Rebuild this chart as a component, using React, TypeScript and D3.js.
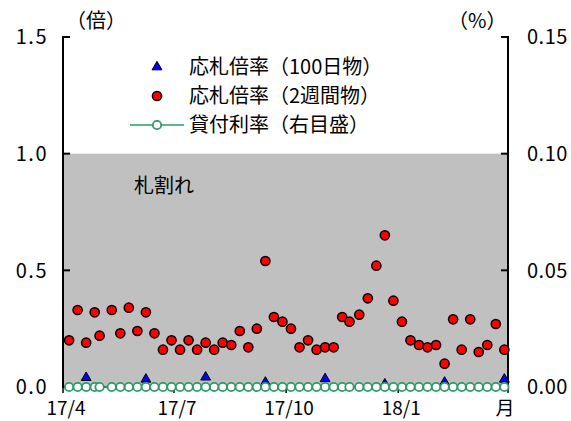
import React from 'react';
import * as d3 from 'd3';

// weekly operation dates (Thursdays, May 1 replaces the holiday week)
const dates2w: [number, number, number][] = [
  [2017, 4, 6], [2017, 4, 13], [2017, 4, 20], [2017, 4, 27], [2017, 5, 1],
  [2017, 5, 11], [2017, 5, 18], [2017, 5, 25], [2017, 6, 1], [2017, 6, 8],
  [2017, 6, 15], [2017, 6, 22], [2017, 6, 29], [2017, 7, 6], [2017, 7, 13],
  [2017, 7, 20], [2017, 7, 27], [2017, 8, 3], [2017, 8, 10], [2017, 8, 17],
  [2017, 8, 24], [2017, 8, 31], [2017, 9, 7], [2017, 9, 14], [2017, 9, 21],
  [2017, 9, 28], [2017, 10, 5], [2017, 10, 12], [2017, 10, 19], [2017, 10, 26],
  [2017, 11, 2], [2017, 11, 9], [2017, 11, 16], [2017, 11, 22], [2017, 11, 30],
  [2017, 12, 7], [2017, 12, 14], [2017, 12, 21], [2017, 12, 28], [2018, 1, 4],
  [2018, 1, 11], [2018, 1, 18], [2018, 1, 25], [2018, 2, 1], [2018, 2, 8],
  [2018, 2, 15], [2018, 2, 22], [2018, 3, 1], [2018, 3, 8], [2018, 3, 15],
  [2018, 3, 22], [2018, 3, 29],
];

// 応札倍率（2週間物）
const bid2w = [
  0.20, 0.33, 0.19, 0.32, 0.22, 0.33, 0.23, 0.34, 0.24, 0.32,
  0.23, 0.16, 0.20, 0.16, 0.20, 0.16, 0.19, 0.16, 0.19, 0.18,
  0.24, 0.17, 0.25, 0.54, 0.30, 0.28, 0.25, 0.17, 0.20, 0.16,
  0.17, 0.17, 0.30, 0.28, 0.31, 0.38, 0.52, 0.65, 0.37, 0.28,
  0.20, 0.18, 0.17, 0.18, 0.10, 0.29, 0.16, 0.29, 0.15, 0.18,
  0.27, 0.16,
];

// 応札倍率（100日物）
const dates100: [number, number, number][] = [
  [2017, 4, 20], [2017, 6, 8], [2017, 7, 27], [2017, 9, 14],
  [2017, 11, 2], [2017, 12, 21], [2018, 2, 8], [2018, 3, 29],
];
const bid100 = [0.04, 0.033, 0.042, 0.02, 0.035, 0.012, 0.02, 0.033];

// 貸付利率（右目盛, %）
const loanRate = dates2w.map(() => 0.0);

const leftTicks = [0, 0.5, 1.0, 1.5];
const rightTicks = [0, 0.05, 0.1, 0.15];
const xTicks: [number, number, string][] = [
  [2017, 4, '17/4'], [2017, 7, '17/7'], [2017, 10, '17/10'], [2018, 1, '18/1'], [2018, 4, '月'],
];

const toDate = ([y, m, d]: [number, number, number]) => new Date(y, m - 1, d);

const FONT = '"Noto Sans CJK JP", "Noto Sans", sans-serif';
const GREEN = '#2f9a68';

export default function App() {
  const x = d3.scaleTime()
    .domain([new Date(2017, 3, 1), new Date(2018, 3, 1)])
    .range([63, 508]);
  const yL = d3.scaleLinear().domain([0, 1.5]).range([387, 37]);
  const yR = d3.scaleLinear().domain([0, 0.15]).range([387, 37]);

  const tri = d3.symbol(d3.symbolTriangle, 42)() as string;
  const line = d3.line<number>()
    .x((_, i) => x(toDate(dates2w[i])))
    .y(d => yR(d));

  return (
    <svg width={571} height={421} style={{ position: 'absolute', left: 0, top: 0, background: '#fff' }}
      fontFamily={FONT}>
      {/* 札割れ zone */}
      <rect x={x.range()[0]} y={yL(1.0)} width={x.range()[1] - x.range()[0]} height={yL(0) - yL(1.0)} fill="#c0c0c0" />
      <text x={134} y={193} fontSize={20} fill="#000">札割れ</text>

      {/* axes */}
      <line x1={63} x2={63} y1={yL(1.5) - 1} y2={yL(0) + 1} stroke="#000" strokeWidth={2} />
      <line x1={508} x2={508} y1={yL(1.5) - 1} y2={yL(0) + 1} stroke="#000" strokeWidth={2} />
      <line x1={63} x2={508} y1={yL(0)} y2={yL(0)} stroke="#000" strokeWidth={1.5} />
      {leftTicks.map(t => (
        <g key={'l' + t}>
          <line x1={63} x2={70} y1={yL(t)} y2={yL(t)} stroke="#000" strokeWidth={2} />
          <text x={48} y={yL(t)} dy="0.36em" textAnchor="end" fontSize={20} letterSpacing={1.5}>{t.toFixed(1)}</text>
        </g>
      ))}
      {rightTicks.map(t => (
        <g key={'r' + t}>
          <line x1={501} x2={508} y1={yR(t)} y2={yR(t)} stroke="#000" strokeWidth={2} />
          <text x={527} y={yR(t)} dy="0.36em" textAnchor="start" fontSize={20} letterSpacing={0.5}>{t.toFixed(2)}</text>
        </g>
      ))}
      {xTicks.map(([yy, mm, lab]) => {
        const px = x(new Date(yy, mm - 1, 1));
        return (
          <g key={lab}>
            <line x1={px} x2={px} y1={387} y2={393} stroke="#000" strokeWidth={1.5} />
            <text x={lab === '月' ? px - 3 : px + 3} y={415} textAnchor="middle" fontSize={19}>{lab}</text>
          </g>
        );
      })}
      <text x={66} y={28} fontSize={20}>（倍）</text>
      <text x={448} y={28} fontSize={20}>（%）</text>

      {/* 100-day bid ratio */}
      {bid100.map((v, i) => (
        <path key={'t' + i} d={tri} transform={`translate(${x(toDate(dates100[i]))},${yL(v)})`}
          fill="#0000ff" stroke="#000" strokeWidth={1} />
      ))}

      {/* 2-week bid ratio */}
      {bid2w.map((v, i) => (
        <circle key={'c' + i} cx={x(toDate(dates2w[i]))} cy={yL(v)} r={4.6}
          fill="#ff0000" stroke="#000" strokeWidth={1.5} />
      ))}

      {/* loan rate */}
      <path d={line(loanRate) as string} fill="none" stroke={GREEN} strokeWidth={1.5} />
      {loanRate.map((v, i) => (
        <circle key={'g' + i} cx={x(toDate(dates2w[i]))} cy={yR(v)} r={4.2}
          fill="#fff" stroke={GREEN} strokeWidth={1.8} />
      ))}

      {/* legend */}
      <path d={tri} transform="translate(157,67)" fill="#0000ff" stroke="#000" strokeWidth={1} />
      <text x={189} y={74} fontSize={20}>応札倍率（100日物）</text>
      <circle cx={157} cy={96} r={4.6} fill="#ff0000" stroke="#000" strokeWidth={1.5} />
      <text x={189} y={103} fontSize={20}>応札倍率（2週間物）</text>
      <line x1={130} x2={184} y1={125} y2={125} stroke={GREEN} strokeWidth={1.5} />
      <circle cx={157} cy={125} r={4.2} fill="#fff" stroke={GREEN} strokeWidth={1.8} />
      <text x={189} y={132} fontSize={20}>貸付利率（右目盛）</text>
    </svg>
  );
}
